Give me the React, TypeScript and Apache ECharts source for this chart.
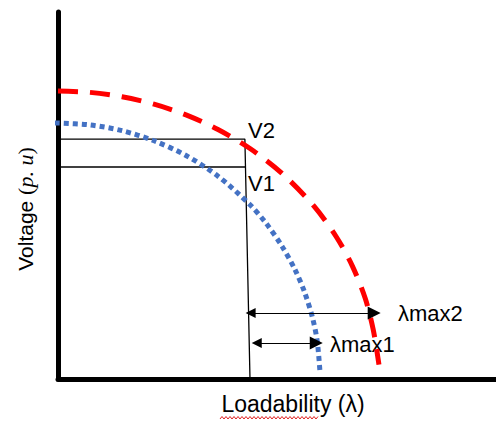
import React, { useEffect, useRef } from "react";
import * as echarts from "echarts";

// Schematic P-V (nose) curves: loadability (x) vs voltage (y), arbitrary units
const redCurve: [number, number][] = [
  [0.0, 1.0], [0.1, 0.995], [0.2, 0.98], [0.3, 0.954], [0.4, 0.917],
  [0.5, 0.866], [0.6, 0.8], [0.7, 0.714], [0.8, 0.6], [0.87, 0.493],
  [0.92, 0.392], [0.96, 0.28], [0.985, 0.172], [1.003, 0.05],
];
const blueCurve: [number, number][] = [
  [-0.01, 0.889], [0.1, 0.882], [0.2, 0.862], [0.3, 0.827], [0.4, 0.776],
  [0.5, 0.704], [0.6, 0.605], [0.65, 0.541], [0.7, 0.461], [0.74, 0.381],
  [0.77, 0.303], [0.795, 0.214], [0.81, 0.132], [0.819, 0.02],
];
const v2Line: [number, number][] = [[0, 0.833], [0.584, 0.833], [0.6, 0]];
const v1Line: [number, number][] = [[0, 0.736], [0.587, 0.736]];
const lambdaMax2Arrow: [number, number][] = [[0.602, 0.229], [0.988, 0.229]];
const lambdaMax1Arrow: [number, number][] = [[0.621, 0.125], [0.807, 0.125]];
const labels = {
  v2: "V2",
  v1: "V1",
  lm2: "λmax2",
  lm1: "λmax1",
  xName: "Loadability (λ)",
};

export default function App() {
  const ref = useRef<HTMLDivElement>(null);
  useEffect(() => {
    document.body.style.margin = "0";
    const chart = echarts.init(ref.current!, null, { renderer: "svg" });
    const sans = "Liberation Sans, Arial, sans-serif";
    const wave: number[][] = [];
    for (let x = 220, i = 0; x <= 318; x += 2, i++) wave.push([x, i % 2 ? 416.5 : 419]);
    const axisCommon = {
      type: "value" as const,
      axisLine: { show: true, onZero: false, lineStyle: { color: "#000", width: 5 } },
      axisTick: { show: false },
      axisLabel: { show: false },
      splitLine: { show: false },
    };
    chart.setOption({
      animation: false,
      grid: { left: 58, right: 0, top: 12, bottom: 42 },
      xAxis: { ...axisCommon, min: 0, max: 1.36875 },
      yAxis: { ...axisCommon, min: 0, max: 1.274 },
      series: [
        {
          type: "line", data: v2Line, showSymbol: false, z: 3,
          lineStyle: { color: "#000", width: 1.3 },
        },
        {
          type: "line", data: v1Line, showSymbol: false, z: 3,
          lineStyle: { color: "#000", width: 1.3 },
        },
        {
          type: "line", data: redCurve, smooth: 0.3, showSymbol: false, clip: false, z: 4,
          lineStyle: { color: "#ff0000", width: 5, type: [20, 12], cap: "butt" },
        },
        {
          type: "line", data: blueCurve, smooth: 0.3, showSymbol: false, clip: false, z: 4,
          lineStyle: { color: "#4472c4", width: 5, type: [5, 4], cap: "butt" },
        },
        {
          type: "lines", coordinateSystem: "cartesian2d", z: 5,
          symbol: ["triangle", "triangle"], symbolSize: [10, 13],
          lineStyle: { color: "#000", width: 1, opacity: 1 },
          itemStyle: { color: "#000" },
          data: [{ coords: lambdaMax2Arrow }, { coords: lambdaMax1Arrow }],
        },
      ],
      graphic: [
        { type: "text", x: 248, y: 130, style: { text: labels.v2, font: `22px ${sans}`, fill: "#000", verticalAlign: "middle" } },
        { type: "text", x: 248, y: 183, style: { text: labels.v1, font: `22px ${sans}`, fill: "#000", verticalAlign: "middle" } },
        { type: "text", x: 398, y: 313, style: { text: labels.lm2, font: `22px ${sans}`, fill: "#000", verticalAlign: "middle" } },
        { type: "text", x: 330, y: 344, style: { text: labels.lm1, font: `22px ${sans}`, fill: "#000", verticalAlign: "middle" } },
        { type: "text", x: 293, y: 404, style: { text: labels.xName, font: `23px ${sans}`, fill: "#000", align: "center", verticalAlign: "middle" } },
        {
          type: "text", x: 25, y: 209, rotation: Math.PI / 2,
          style: {
            text: "Voltage {i|(}{m|p. u}{i|)}",
            font: `21px ${sans}`, fill: "#000", align: "center", verticalAlign: "middle",
            rich: {
              i: { font: `22px Liberation Serif, serif`, fill: "#000" },
              m: { font: `italic 22px Liberation Serif, serif`, fill: "#000" },
            },
          },
        },
        { type: "polyline", shape: { points: wave }, style: { stroke: "#e02020", lineWidth: 1, fill: null } },
      ],
    });
    return () => chart.dispose();
  }, []);
  return <div ref={ref} style={{ position: "absolute", left: 0, top: 0, width: 496, height: 421 }} />;
}
